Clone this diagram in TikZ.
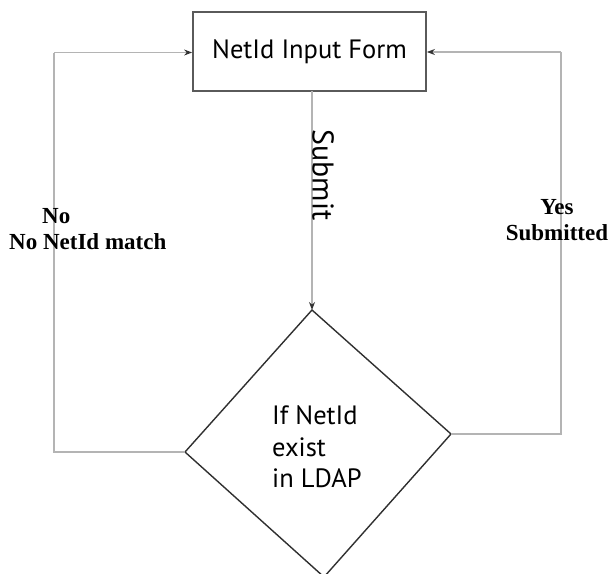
\documentclass[tikz,border=0pt]{standalone}
\usepackage{fontspec}
\setmainfont{Liberation Serif}
\newfontfamily\bodyfont{PT Sans}
\usetikzlibrary{arrows.meta}
\definecolor{conn}{HTML}{B4B4B4}
\definecolor{boxline}{HTML}{5A5A5A}
\definecolor{dline}{HTML}{303030}
\tikzset{
  connector/.style={draw=conn, line width=1.1pt},
  arrowed/.style={connector, -{Stealth[length=8pt,width=6pt,color=black!80]}},
  formbox/.style={draw=boxline, line width=1.8pt, minimum width=233pt, minimum height=79pt, inner sep=0pt, font=\bodyfont\fontsize{26.5}{31}\selectfont},
  lbl/.style={font=\bfseries\fontsize{23}{26.5}\selectfont, inner sep=0pt},
  dtext/.style={font=\bodyfont\fontsize{26.5}{31.5}\selectfont, align=left, anchor=west, inner sep=0pt}
}
\begin{document}
\begin{tikzpicture}[x=1pt,y=-1pt]
\useasboundingbox (0,0) rectangle (610,573);
\clip (0,0) rectangle (610,573);
% box
\node[formbox] (form) at (309.5,51.5) {NetId Input Form};
% diamond
\coordinate (dtop) at (312,310);
\coordinate (dright) at (451,434);
\coordinate (dbottom) at (324,577);
\coordinate (dleft) at (185,452);
\draw[dline, line width=1.4pt, line join=miter] (dtop) -- (dright) -- (dbottom) -- (dleft) -- cycle;
\node[dtext] (cond) at (272,447) {If NetId\\exist\\in LDAP};
% submit
\coordinate (fbot) at (312,91);
\draw[arrowed] (fbot) -- (dtop);
\node[font=\bodyfont\fontsize{30}{34}\selectfont, rotate=-90, inner sep=0pt] (submit) at (323,175) {Submit};
% left loop
\coordinate (lb) at (54,452);
\coordinate (lt) at (54,52.5);
\draw[connector] (dleft) -- (lb) -- (lt);
\draw[arrowed] (lt) -- (form.west |- lt);
% right loop
\coordinate (rb) at (561,434);
\coordinate (rt) at (561,52);
\draw[connector] (dright) -- (rb) -- (rt);
\draw[arrowed] (rt) -- (form.east |- rt);
% labels
\node[lbl, align=left, anchor=west] (nolbl) at (9,229) {\hspace*{33pt}No\\No NetId match};
\node[lbl, align=center] (yeslbl) at (557,220) {Yes\\Submitted};
\end{tikzpicture}
\end{document}
